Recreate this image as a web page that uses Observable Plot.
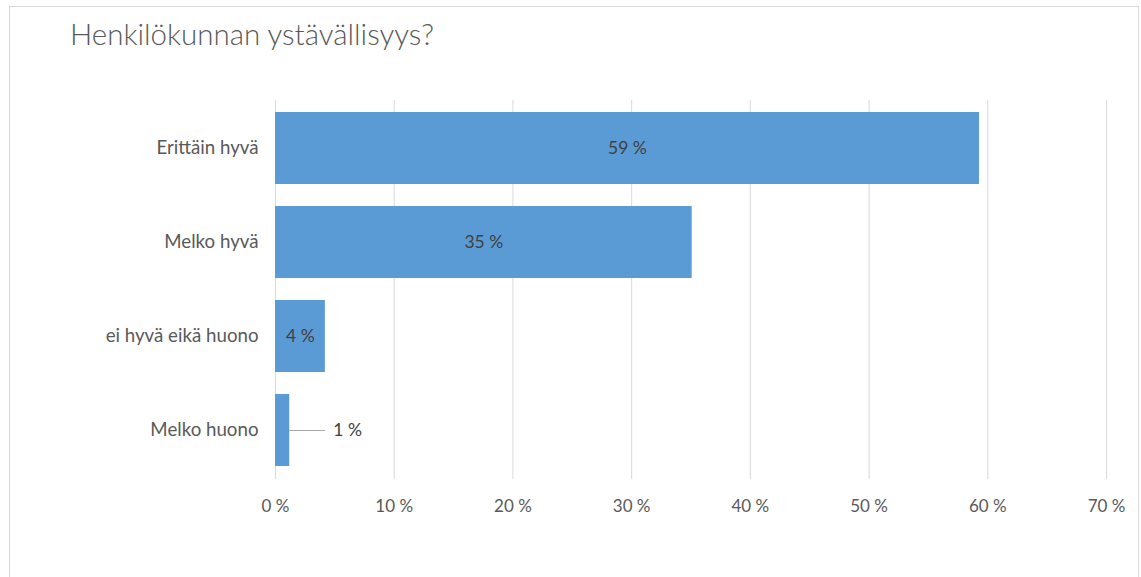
<!DOCTYPE html>
<html>
<head>
<meta charset="utf-8">
<script src="https://cdn.jsdelivr.net/npm/d3@7"></script>
<script src="https://cdn.jsdelivr.net/npm/@observablehq/plot@0.6"></script>
<style>
  html, body { margin: 0; padding: 0; background: white; overflow: hidden; }
  #wrap { position: relative; width: 1141px; height: 577px; overflow: hidden; background: white; }
  #frame { position: absolute; left: 9px; top: 6px; width: 1130px; height: 640px; border: 1px solid #d9d9d9; box-sizing: border-box; pointer-events: none; }
  #title { position: relative; height: 80px; box-sizing: border-box; padding-left: 70px; padding-top: 17px;
           font-family: Lato, "Open Sans", sans-serif; font-size: 29.5px; font-weight: 300; color: #595959; line-height: 34px; }
  #chart { position: relative; }
</style>
</head>
<body>
<div id="wrap">
  <div id="frame"></div>
  <div id="title">Henkilökunnan ystävällisyys?</div>
  <div id="chart"></div>
</div>
<script>
const categories = ["Erittäin hyvä", "Melko hyvä", "ei hyvä eikä huono", "Melko huono"];
const values = [59.3, 35.1, 4.2, 1.2];
const valueLabels = ["59 %", "35 %", "4 %", "1 %"];
const labelInside = [true, true, true, false];
const xTicks = [0, 10, 20, 30, 40, 50, 60, 70];

const data = categories.map((c, i) => ({category: c, value: values[i], label: valueLabels[i], inside: labelInside[i]}));
const inside = data.filter(d => d.inside);
const outside = data.filter(d => !d.inside);
const leader = 3;

const chart = Plot.plot({
  width: 1141,
  height: 497,
  marginLeft: 275,
  marginRight: 35,
  marginTop: 20,
  marginBottom: 98,
  style: {fontFamily: "Lato, 'Open Sans', sans-serif", fontSize: "18.7px", color: "#595959", background: "transparent", overflow: "visible"},
  x: {domain: [0, 70]},
  y: {domain: categories, paddingInner: 0.23, paddingOuter: 0.11},
  marks: [
    Plot.gridX(xTicks, {stroke: "#d9d9d9", strokeOpacity: 1}),
    Plot.barX(data, {y: "category", x: "value", fill: "#5b9bd5"}),
    Plot.text(inside, {y: "category", x: d => d.value / 2, text: "label", fill: "#404040", fontSize: 17.5}),
    Plot.ruleY(outside, {y: "category", x1: "value", x2: d => d.value + leader, stroke: "#a6a6a6"}),
    Plot.text(outside, {y: "category", x: d => d.value + leader, dx: 8, textAnchor: "start", text: "label", fill: "#404040", fontSize: 17.5}),
    Plot.axisX(xTicks, {tickSize: 0, tickPadding: 20, tickFormat: d => d + " %", label: null, fontSize: 17}),
    Plot.axisY({tickSize: 0, tickPadding: 17, label: null, fontSize: 18.7})
  ]
});
document.getElementById("chart").appendChild(chart);
</script>
</body>
</html>
